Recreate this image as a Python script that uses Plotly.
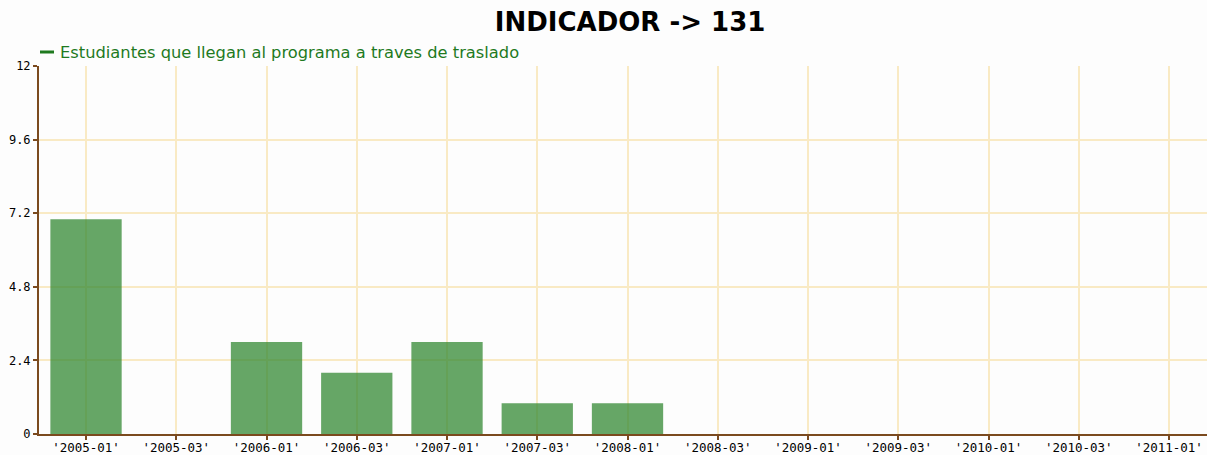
import plotly.graph_objects as go

categories = ["'2005-01'", "'2005-03'", "'2006-01'", "'2006-03'", "'2007-01'", "'2007-03'",
              "'2008-01'", "'2008-03'", "'2009-01'", "'2009-03'", "'2010-01'", "'2010-03'", "'2011-01'"]
values = [7, 0, 3, 2, 3, 1, 1, 0, 0, 0, 0, 0, 0]
series_name = "Estudiantes que llegan al programa a traves de traslado"
title_text = "INDICADOR -> 131"
y_ticks = [0, 2.4, 4.8, 7.2, 9.6, 12]
y_tick_labels = ["0", "2.4", "4.8", "7.2", "9.6", "12"]

brown = "#7b4a1e"
grid = "#f9eac4"
legend_green = "#1f7a1f"

fig = go.Figure()
fig.add_trace(go.Bar(
    x=categories, y=values, width=0.79, name=series_name,
    marker=dict(color="rgba(51,136,51,0.75)", line=dict(width=0)),
    showlegend=False, hoverinfo="x+y"))

fig.update_layout(
    width=1207, height=455,
    margin=dict(l=39, r=0, t=66, b=21),
    paper_bgcolor="#fdfdfd", plot_bgcolor="#fdfdfd",
    title=dict(text="<b>" + title_text + "</b>", x=0.522, xanchor="center", y=0.952, yanchor="middle",
               font=dict(family="DejaVu Sans", size=26, color="#000000")),
    showlegend=False,
    bargap=0.2,
    font=dict(family="DejaVu Sans", size=11, color="#000000"),
    annotations=[dict(
        text=series_name, xref="paper", yref="paper", x=0, y=1,
        xanchor="left", yanchor="bottom", xshift=19, yshift=2, showarrow=False,
        font=dict(family="DejaVu Sans", size=16.3, color=legend_green))],
    shapes=[dict(
        type="line", xref="paper", yref="paper", xsizemode="pixel", ysizemode="pixel",
        xanchor=0, yanchor=1, x0=1, x1=15, y0=14, y1=14,
        line=dict(color=legend_green, width=3))],
)
fig.update_xaxes(
    range=[-0.521, 12.421], showgrid=True, gridcolor=grid, gridwidth=2,
    showline=True, linecolor=brown, linewidth=2,
    ticks="outside", ticklen=4, tickcolor=brown, tickwidth=2, ticklabelstandoff=-3,
    tickfont=dict(family="DejaVu Sans Mono", size=12.5, color="#000000"),
    automargin=False, fixedrange=True)
fig.update_yaxes(
    range=[0, 12], tickvals=y_ticks, ticktext=y_tick_labels,
    showgrid=True, gridcolor=grid, gridwidth=2, zeroline=False,
    showline=True, linecolor=brown, linewidth=2,
    ticks="outside", ticklen=4, tickcolor=brown, tickwidth=2,
    tickfont=dict(family="DejaVu Sans Mono", size=12, color="#000000"),
    automargin=False, fixedrange=True)

fig.write_html("out.html", config={"displayModeBar": False},
               post_script="document.body.style.margin='0';document.body.style.overflow='hidden';")
